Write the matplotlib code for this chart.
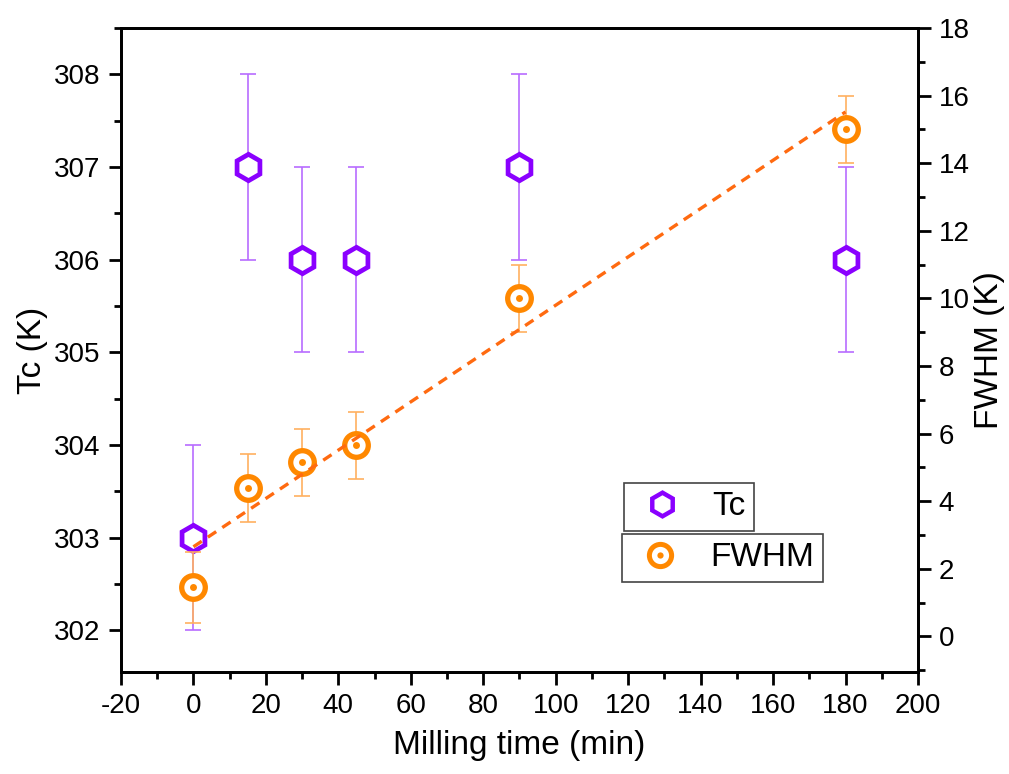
import numpy as np
import matplotlib
matplotlib.use("Agg")
import matplotlib.pyplot as plt
from matplotlib.ticker import MultipleLocator
from matplotlib.lines import Line2D

plt.rcParams['font.family'] = ['Liberation Sans', 'DejaVu Sans']
plt.rcParams['axes.unicode_minus'] = False

# Milling time (min)
milling_time = [0, 15, 30, 45, 90, 180]
# Curie temperature and its uncertainty (K)
tc = [303, 307, 306, 306, 307, 306]
tc_err = [1, 1, 1, 1, 1, 1]
# Full width at half maximum and its uncertainty (K)
fwhm = [1.45, 4.4, 5.15, 5.65, 10.0, 15.0]
fwhm_err = [1.05, 1.0, 1.0, 1.0, 1.0, 1.0]

purple = '#8a00ff'
orange = '#ff8800'

fig = plt.figure(figsize=(10.09, 7.74), dpi=100)
ax = fig.add_axes([0.1199, 0.1318, 0.7899, 0.8320])
ax2 = ax.twinx()

# Tc on the left axis
ax.errorbar(milling_time, tc, yerr=tc_err, fmt='none', ecolor='#b86cff',
            elinewidth=1.2, capsize=6, capthick=1.2, zorder=2)
ax.plot(milling_time, tc, linestyle='none', marker='h', markersize=19,
        markerfacecolor='white', markeredgecolor=purple, markeredgewidth=3.4,
        zorder=3)

# FWHM on the right axis, with a linear fit
ax2.errorbar(milling_time, fwhm, yerr=fwhm_err, fmt='none', ecolor='#ffb060',
             elinewidth=1.2, capsize=6, capthick=1.2, zorder=2)
slope, intercept = np.polyfit(milling_time, fwhm, 1)
xfit = np.array([min(milling_time), max(milling_time)])
ax2.plot(xfit, slope * xfit + intercept, linestyle=(0, (3, 2.2)),
         color='#ff6a10', linewidth=2.4, zorder=4)
ax2.plot(milling_time, fwhm, linestyle='none', marker='o', markersize=17,
         markerfacecolor='white', markeredgecolor=orange, markeredgewidth=3.8,
         zorder=3)
ax2.plot(milling_time, fwhm, linestyle='none', marker='o', markersize=5,
         markerfacecolor=orange, markeredgewidth=0, zorder=5)

ax.set_xlim(-20, 200)
ax.set_ylim(301.55, 308.5)
ax2.set_ylim(-1.05, 18)

ax.xaxis.set_major_locator(MultipleLocator(20))
ax.xaxis.set_minor_locator(MultipleLocator(10))
ax.yaxis.set_major_locator(MultipleLocator(1))
ax.yaxis.set_minor_locator(MultipleLocator(0.5))
ax2.yaxis.set_major_locator(MultipleLocator(2))
ax2.yaxis.set_minor_locator(MultipleLocator(1))

for a in (ax, ax2):
    a.tick_params(which='major', direction='out', length=9, width=2,
                  labelsize=20, pad=6)
    a.tick_params(which='minor', direction='out', length=5, width=2)
    for s in a.spines.values():
        s.set_linewidth(2)
ax.tick_params(axis='x', which='both', top=False)

ax.set_xlabel('Milling time (min)', fontsize=24, labelpad=8)
ax.set_ylabel('Tc (K)', fontsize=24, labelpad=4)
ax2.set_ylabel('FWHM (K)', fontsize=24, labelpad=3)

# Two separate legend boxes
h_tc = Line2D([], [], linestyle='none', marker='h', markersize=17,
              markerfacecolor='white', markeredgecolor=purple, markeredgewidth=3.2)
h_fw = Line2D([], [], linestyle='none', marker='o', markersize=16,
              markerfacecolor='white', markeredgecolor=orange, markeredgewidth=3.6)
h_dot = Line2D([], [], linestyle='none', marker='o', markersize=4.5,
               markerfacecolor=orange, markeredgewidth=0)

common = dict(loc='upper left', fontsize=24, fancybox=False,
              edgecolor='#444444', framealpha=1, handletextpad=0.6,
              borderpad=0.25, handlelength=1.8, borderaxespad=0)
leg1 = fig.legend([h_tc], ['Tc'], bbox_to_anchor=(624 / 1009, 1 - 483 / 774),
                  **common)
leg1.get_frame().set_linewidth(1.2)
leg2 = fig.legend([(h_fw, h_dot)], ['FWHM'],
                  bbox_to_anchor=(622 / 1009, 1 - 534 / 774), **common)
leg2.get_frame().set_linewidth(1.2)

fig.savefig('out.png', dpi=100, facecolor='white')
